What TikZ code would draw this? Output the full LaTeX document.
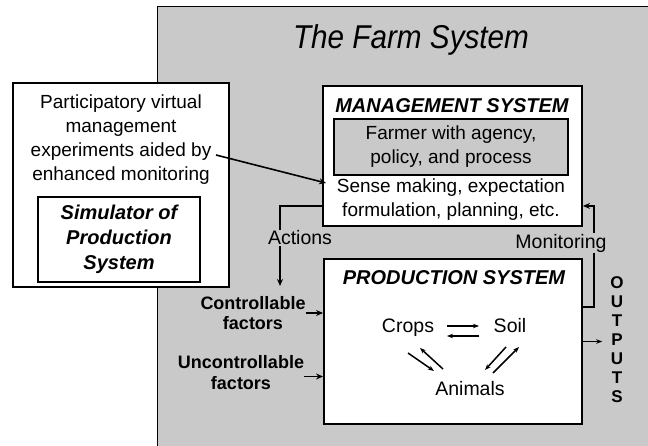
\documentclass[tikz,border=0pt]{standalone}
\usepackage{fontspec}
\setmainfont{Liberation Sans}
\newfontfamily\titlefont[FakeStretch=0.9]{Liberation Sans}
\usetikzlibrary{arrows.meta}
\definecolor{farmgray}{gray}{0.79}

\begin{document}
\begin{tikzpicture}[x=1pt,y=-1pt,
  box/.style={draw,line width=1.9pt,fill=white,inner sep=0pt},
  subbox/.style={draw,line width=1.3pt,inner sep=0pt},
  txt/.style={inner sep=0pt,align=center,font=\fontsize{19}{24}\selectfont},
  item/.style={inner sep=0pt,font=\fontsize{19.5}{24}\selectfont},
  head/.style={inner sep=0pt,font=\fontsize{20}{25}\selectfont\bfseries\itshape},
  lbl/.style={fill=farmgray,inner sep=1pt,font=\fontsize{19.5}{24}\selectfont},
  factor/.style={inner sep=0pt,align=center,font=\fontsize{18}{20.5}\selectfont\bfseries},
  conn/.style={line width=1.6pt,-{Stealth[length=7pt,width=6pt]}},
  link/.style={line width=1.5pt,-{Stealth[length=6pt,width=4.5pt]}}]
\useasboundingbox (0,0) rectangle (648,446);
% the farm
\node[draw,line width=1.3pt,fill=farmgray,minimum width=520pt,minimum height=460pt,
  anchor=north west,inner sep=0pt] (farm) at (157,6) {};
\node[inner sep=0pt,font=\titlefont\fontsize{33}{36}\selectfont\itshape] (title) at (411,40) {The Farm System};
% management system
\node[box,minimum width=259pt,minimum height=140pt] (mgmt) at (452.5,156) {};
\node[head] (mgmthead) at (452,106) {MANAGEMENT SYSTEM};
\node[subbox,txt,fill=farmgray,minimum width=234pt,minimum height=56pt] (farmer) at (451,147)
  {Farmer with agency,\\policy, and process};
\node[txt] (sense) at (451,200) {Sense making, expectation\\formulation, planning, etc.};
% production system
\node[box,minimum width=258pt,minimum height=165pt] (prod) at (453,341.5) {};
\node[head] (prodhead) at (454,278) {PRODUCTION SYSTEM};
\node[item,anchor=base] (crops) at (408,333) {Crops};
\node[item,anchor=base] (soil) at (510,333) {Soil};
\node[item,anchor=base] (animals) at (470,395) {Animals};
\draw[link] ([shift={(39,-7)}]crops.base) -- ([shift={(-31,-7)}]soil.base);
\draw[link] ([shift={(-31,3)}]soil.base) -- ([shift={(39,3)}]crops.base);
\draw[link] ([shift={(0,20)}]crops.base) -- ([shift={(-36,-24)}]animals.base);
\draw[link] ([shift={(-27,-26)}]animals.base) -- ([shift={(12,15)}]crops.base);
\draw[link] ([shift={(-4,14)}]soil.base) -- ([shift={(15,-25)}]animals.base);
\draw[link] ([shift={(23,-22)}]animals.base) -- ([shift={(9,14)}]soil.base);
% virtual experiments
\node[box,minimum width=216pt,minimum height=204pt] (virtual) at (121,185) {};
\node[txt] (virtualtxt) at (121,139.5)
  {Participatory virtual\\management\\experiments aided by\\enhanced monitoring};
\node[subbox,fill=white,minimum width=162pt,minimum height=85pt,align=center,
  font=\fontsize{20}{25}\selectfont\bfseries\itshape] (sim) at (119,239.5)
  {Simulator of\\Production\\System};
\coordinate (byend) at (216,155);
\draw[conn] (byend) -- ([shift={(4,27)}]mgmt.west);
% actions and monitoring
\coordinate (actend) at (280,286);
\draw[conn] ([shift={(0,-21)}]mgmt.south west) -| (actend);
\node[lbl] (actions) at (300,238) {Actions};
\draw[conn] ([shift={(0,49)}]prod.north east) -| ([shift={(11,-21)}]mgmt.south east)
  -- ([shift={(0,-21)}]mgmt.south east);
\node[lbl] (monitoring) at (561,243) {Monitoring};
% inputs and outputs
\node[factor] (ctrl) at (253,313) {Controllable\\factors};
\node[factor] (unctrl) at (241,372.5) {Uncontrollable\\factors};
\draw[conn] (ctrl.east) -- (ctrl.east -| prod.west);
\draw[conn] ([shift={(0,4)}]unctrl.east) -- ([shift={(0,4)}]unctrl.east -| prod.west);
\node[inner sep=0pt,align=center,font=\fontsize{17}{19}\selectfont\bfseries] (outputs) at (617,340)
  {O\\U\\T\\P\\U\\T\\S};
\draw[link,shorten >=8pt] (prod.east) -- (prod.east -| outputs.west);
\end{tikzpicture}
\end{document}
